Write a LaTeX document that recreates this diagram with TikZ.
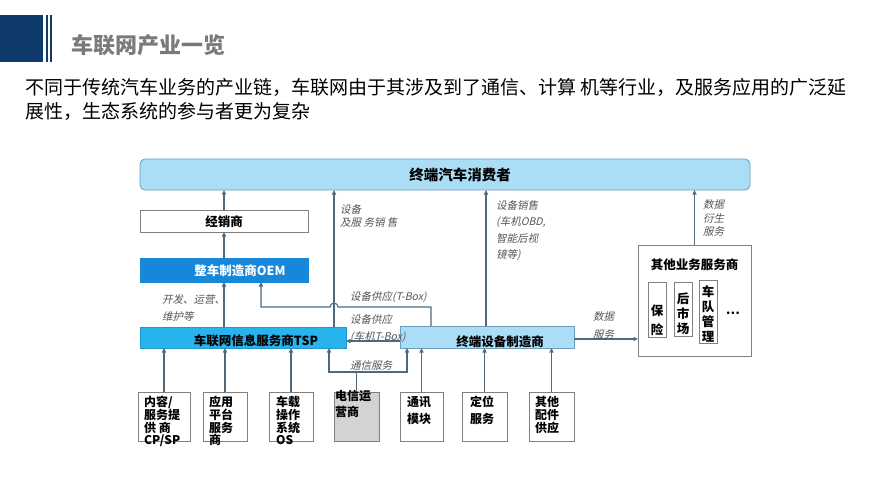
\documentclass[tikz,border=0pt]{standalone}
\usepackage{fontspec}
\setmainfont{Noto Sans CJK SC}
\newfontfamily\itfont{Noto Sans CJK SC}[FakeSlant=0.22]
\usetikzlibrary{arrows.meta}
\definecolor{navy}{HTML}{0E3B6C}
\definecolor{titlegray}{HTML}{7A7A7A}
\definecolor{lncol}{HTML}{4D6A80}
\definecolor{lblgray}{HTML}{555555}
\definecolor{boxgray}{HTML}{808080}
\definecolor{lightblue}{HTML}{ABDDF6}
\definecolor{lightblueedge}{HTML}{6E9CC0}
\definecolor{oemblue}{HTML}{1787DA}
\definecolor{tspblue}{HTML}{27B4EE}
\definecolor{telgray}{HTML}{D3D3D3}
\tikzset{
  ln/.style={draw=lncol, line width=1.1pt},
  arr/.style={ln, -{Triangle[length=4.5pt,width=4pt]}},
  box/.style={draw=boxgray, line width=0.8pt, fill=white, inner sep=0pt, outer sep=0pt, anchor=north west},
  bt/.style={font=\bfseries\fontsize{12.5}{15}\selectfont, inner sep=0pt},
  smt/.style={font=\bfseries\fontsize{12}{12.7}\selectfont, inner sep=0pt, anchor=north west, align=left},
  lbl/.style={font=\itfont\fontsize{10.5}{13}\selectfont, text=lblgray, inner sep=0pt, anchor=north west, align=left},
}
\begin{document}
\begin{tikzpicture}[x=1pt, y=-1pt]
\useasboundingbox (0,0) rectangle (889,500);
% header
\fill[navy] (0,15) rectangle (43,62);
\fill[navy] (45.5,15) rectangle (47.5,62);
\fill[navy] (50,15) rectangle (52,62);
\node[anchor=west, inner sep=0pt, text=titlegray, font=\bfseries\fontsize{22}{26}\selectfont] (title) at (71,45) {车联网产业一览};
\node[anchor=north west, inner sep=0pt, align=left, font=\fontsize{19}{24}\selectfont] (sub) at (25,78.5)
  {不同于传统汽车业务的产业链，车联网由于其涉及到了通信、计算 机等行业，及服务应用的广泛延\\展性，生态系统的参与者更为复杂};

% main boxes
\node[box, draw=lightblueedge, fill=lightblue, rounded corners=5pt, minimum width=610pt, minimum height=31pt] (cons) at (140,159) {};
\node[bt, font=\bfseries\fontsize{14.5}{16}\selectfont] (constext) at (460,175) {终端汽车消费者};
\node[box, minimum width=168pt, minimum height=22pt] (dealer) at (140,210) {};
\node[bt] (dealertext) at (224,221.5) {经销商};
\node[box, draw=oemblue, fill=oemblue, minimum width=168pt, minimum height=24pt] (oem) at (140,258) {};
\node[bt, text=white] (oemtext) at (240,270.5) {整车制造商OEM};
\node[box, draw=tspblue!85!black, fill=tspblue, minimum width=206pt, minimum height=21pt] (tsp) at (140,327) {};
\node[bt] (tsptext) at (256,341) {车联网信息服务商TSP};
\node[box, draw=lightblueedge, fill=lightblue, minimum width=174pt, minimum height=22pt] (term) at (400,326) {};
\node[bt] (termtext) at (500,341.5) {终端设备制造商};
\node[box, minimum width=113pt, minimum height=111pt] (other) at (638,245) {};
\node[bt] (othertext) at (694.5,265) {其他业务服务商};
\node[box, minimum width=18pt, minimum height=55pt] (ins) at (648,282) {};
\node[bt, align=center, font=\bfseries\fontsize{12.5}{19}\selectfont] (instext) at (657,320) {保\\险};
\node[box, minimum width=18pt, minimum height=54pt] (after) at (674,282) {};
\node[bt, align=center, font=\bfseries\fontsize{12.5}{15}\selectfont] (aftertext) at (683,314) {后\\市\\场};
\node[box, minimum width=18pt, minimum height=63pt] (fleet) at (699,280) {};
\node[bt, align=center, font=\bfseries\fontsize{12.5}{15}\selectfont] (fleettext) at (708,313.5) {车\\队\\管\\理};
\node[bt] (dots) at (733,313) {…};

% bottom boxes
\node[box, minimum width=52pt, minimum height=49pt] (cp) at (138,392) {};
\node[smt] (cptext) at (144,396) {内容/\\服务提\\供 商\\CP/SP};
\node[box, minimum width=44pt, minimum height=49pt] (app) at (203,392) {};
\node[smt] (apptext) at (209,396) {应用\\平台\\服务\\商};
\node[box, minimum width=44pt, minimum height=49pt] (os) at (269,392) {};
\node[smt] (ostext) at (276,396) {车载\\操作\\系统\\OS};
\node[box, fill=telgray, minimum width=45pt, minimum height=49pt] (tel) at (334,392) {};
\node[smt, font=\bfseries\fontsize{12}{16}\selectfont] (teltext) at (335,389.5) {电信运\\营商};
\node[box, minimum width=43pt, minimum height=49pt] (comm) at (400,392) {};
\node[smt, font=\bfseries\fontsize{12}{17}\selectfont] (commtext) at (407,396) {通讯\\模块};
\node[box, minimum width=45pt, minimum height=49pt] (loc) at (462,392) {};
\node[smt, font=\bfseries\fontsize{12}{17}\selectfont] (loctext) at (470,396) {定位\\服务};
\node[box, minimum width=45pt, minimum height=49pt] (parts) at (529,392) {};
\node[smt, font=\bfseries\fontsize{12}{13}\selectfont] (partstext) at (535,396) {其他\\配件\\供应};

% coordinates
\coordinate (tspup) at ([xshift=-12pt]tsp.north east);
\coordinate (termup1) at ([xshift=31pt]term.north west);
\coordinate (termup2) at ([xshift=86pt]term.north west);
\coordinate (oemin) at ([xshift=121pt]oem.south west);
\coordinate (hop) at (334,307);
\coordinate (tside) at ([yshift=-4pt]term.west);
\coordinate (oside) at ([yshift=-2pt]term.east);
\coordinate (telj) at (356.5,372);
\coordinate (teltsp) at ([xshift=-17pt]tsp.south east);
\coordinate (telterm) at ([xshift=7pt]term.south west);

% connectors
\draw[arr] (dealer.north) -- (dealer.north |- cons.south);
\draw[arr] (oem.north) -- (dealer.south);
\draw[arr] (oem.south |- tsp.north) -- (oem.south);
\draw[arr] (tspup) -- (tspup |- cons.south);
\draw[arr] (termup1) |- ([xshift=4pt]hop) arc[start angle=0, end angle=180, radius=4pt] -- (hop -| oemin) -- (oemin);
\draw[arr] (tside) -- (tside -| tsp.east);
\draw[arr] (termup2) -- (termup2 |- cons.south);
\draw[arr] (oside) -- (oside -| other.west);
\draw[arr] (other.north) -- (other.north |- cons.south);

\draw[arr] (cp.north) -- (cp.north |- tsp.south);
\draw[arr] (app.north) -- (app.north |- tsp.south);
\draw[arr] (os.north) -- (os.north |- tsp.south);
\draw[ln] (tel.north) -- (telj);
\draw[arr] (telj) -| (teltsp);
\draw[arr] (telj) -| (telterm);
\draw[arr] (comm.north) -- (comm.north |- term.south);
\draw[arr] (loc.north) -- (loc.north |- term.south);
\draw[arr] (parts.north) -- (parts.north |- term.south);

% labels
\node[lbl] (l1) at (340,204.5) {设备\\及服 务销 售};
\node[lbl] (l2) at (350,291.5) {设备供应(T-Box)};
\node[lbl, font=\itfont\fontsize{10.5}{17}\selectfont] (l3) at (350,314.5) {设备供应\\(车机T-Box)};
\node[lbl, font=\itfont\fontsize{10.5}{16.3}\selectfont] (l4) at (496,200.5) {设备销售\\(车机OBD,\\智能后视\\镜等)};
\node[lbl, font=\itfont\fontsize{10.5}{18}\selectfont] (l5) at (593,311.5) {数据\\服务};
\node[lbl, font=\itfont\fontsize{10.5}{13.5}\selectfont] (l6) at (703,199.5) {数据\\衍生\\服务};
\node[lbl, anchor=center] (l7) at (371,366) {通信服务};
\node[lbl, font=\itfont\fontsize{10.5}{17}\selectfont] (l8) at (162,294.5) {开发、运营、\\维护等};
\end{tikzpicture}
\end{document}
